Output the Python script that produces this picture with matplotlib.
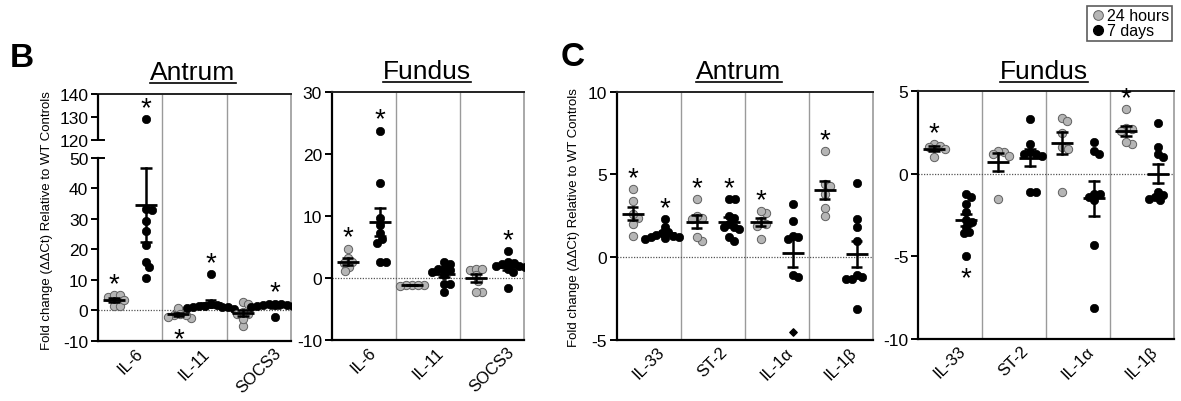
import numpy as np
import matplotlib
matplotlib.use("Agg")
import matplotlib.pyplot as plt
from matplotlib.lines import Line2D

plt.rcParams['font.family'] = ['Liberation Sans', 'DejaVu Sans']

# ---------------- data ----------------
B_genes = ['IL-6', 'IL-11', 'SOCS3']
C_genes = ['IL-33', 'ST-2', 'IL-1\u03b1', 'IL-1\u03b2']

B_antrum_24h = [[4.5, 5.0, 5.0, 1.5, 1.5, 3.5],
                [-1.5, 0.7, -2.3, -2.0, -1.5, -1.2],
                [2.8, 2.1, -1.2, -5.0, -2.8, -1.2, -0.5]]
B_antrum_7d = [[129.0, 32.8, 33.3, 29.2, 26.0, 21.5, 15.8, 14.1, 10.5],
               [12.0, 2.0, 1.8, 1.5, 1.5, 1.2, 1.0, 1.0, 0.8, 0.5],
               [2.0, 2.2, 1.8, 1.5, 1.5, 1.8, 2.0, 1.2, 1.5, -2.0]]

B_fundus_24h = [[4.7, 3.2, 2.6, 1.8, 1.1, 2.4],
                [-1.1, -1.2, -1.2, -1.3, -1.1],
                [1.3, 1.5, 1.4, 0.4, -0.5, -2.3, -2.2]]
B_fundus_7d = [[23.7, 15.3, 9.6, 8.5, 7.2, 6.3, 5.7, 2.6, 2.6],
               [2.5, 2.2, 1.5, 1.4, 1.2, 1.0, -0.9, -0.9, -2.2, 0.5],
               [4.3, 2.4, 2.0, 1.8, 2.0, 2.5, 1.0, 1.5, -1.6, 2.2]]

C_antrum_24h = [[4.1, 3.4, 2.4, 2.0, 1.3, 2.6],
                [3.5, 2.4, 2.5, 1.0, 1.2, 2.3],
                [2.7, 2.8, 2.2, 1.9, 1.1, 2.0],
                [6.4, 4.4, 3.8, 3.0, 2.5, 4.3]]
C_antrum_7d = [[2.3, 1.8, 1.5, 1.45, 1.35, 1.3, 1.2, 1.25, 1.1, 1.15],
               [3.5, 3.5, 2.4, 2.5, 1.8, 1.8, 1.7, 1.0, 1.2, 2.0],
               [3.2, 2.2, 1.3, 1.2, 1.1, -1.1, -1.2, -4.5],
               [4.5, 2.3, 1.8, 1.0, -1.1, -1.3, -1.3, -3.1, -1.2]]
# the point drawn as a small diamond (gene index, value) in C antrum 7 days
C_antrum_7d_diamond = (2, -4.5)

C_fundus_24h = [[1.8, 1.7, 1.6, 1.5, 1.0],
                [1.3, 1.4, 1.1, -1.5, 1.2],
                [3.4, 3.2, 2.5, 1.6, 1.5, -1.1],
                [3.9, 2.7, 2.8, 1.8, 1.9, 2.6]]
C_fundus_7d = [[-1.2, -1.4, -1.8, -2.3, -2.9, -3.5, -3.6, -3.2, -5.0, -2.8],
               [3.3, 1.8, 1.2, 1.1, 1.2, 1.3, -1.1, -1.1],
               [1.9, 1.4, 1.2, -1.2, -1.2, -1.4, -1.6, -4.3, -8.1],
               [3.1, 1.6, 1.2, 1.0, -1.1, -1.3, -1.6, -1.4, -1.5]]

# significance stars: (gene index, group 0=24h / 1=7d, direction)
B_antrum_stars = [(0, 0, 'up'), (0, 1, 'up'), (1, 0, 'down'), (1, 1, 'up'), (2, 1, 'up')]
B_fundus_stars = [(0, 0, 'up'), (0, 1, 'up'), (2, 1, 'up')]
C_antrum_stars = [(0, 0, 'up'), (0, 1, 'up'), (1, 0, 'up'), (1, 1, 'up'), (2, 0, 'up'), (3, 0, 'up')]
C_fundus_stars = [(0, 0, 'up'), (0, 1, 'down'), (3, 0, 'up')]

B_antrum_yticks = [-10, 0, 10, 20, 30, 40, 50, 120, 130, 140]
B_fundus_yticks = [-10, 0, 10, 20, 30]
C_antrum_yticks = [-5, 0, 5, 10]
C_fundus_yticks = [-10, -5, 0, 5]

legend_labels = ['24 hours', '7 days']
ylabel_text = 'Fold change (\u0394\u0394Ct) Relative to WT Controls'

# ---------------- style ----------------
W, H = 1181, 402
GREY = '#b5b5b5'
GREY_EDGE = '#606060'
SEP = '#9a9a9a'
fig = plt.figure(figsize=(W / 100, H / 100), dpi=100)


def rect(l, r, t, b):
    return [l / W, 1 - b / H, (r - l) / W, (b - t) / H]


def swarm(ax, center, vals, d=6.0):
    vals = np.asarray(vals, float)
    disp = ax.transData.transform(np.column_stack([np.full(len(vals), center), vals]))
    ys = disp[:, 1]
    order = np.argsort(-ys, kind='stable')
    placed = []
    offs = np.zeros(len(vals))
    for i in order:
        y = ys[i]
        near = [(px, py) for px, py in placed if abs(py - y) < d]
        cands = [0.0]
        for px, py in near:
            dx = np.sqrt(max(d * d - (py - y) ** 2, 0))
            cands += [px + dx, px - dx]
        cands = sorted(set(cands), key=lambda c: (round(abs(c), 6), -c))
        for c in cands:
            if all((c - px) ** 2 + (y - py) ** 2 >= d * d - 1e-6 for px, py in near):
                offs[i] = c
                placed.append((c, y))
                break
    xd = ax.transData.inverted().transform(np.column_stack([disp[:, 0] + offs, ys]))[:, 0]
    return xd


def panel(ax, genes, g24, g7, ylim, yticks, stars, diamond=None):
    n = len(genes)
    ax.set_xlim(0, n)
    ax.set_ylim(*ylim)
    for i in range(1, n):
        ax.axvline(i, color=SEP, lw=1.0, zorder=1)
    ax.axhline(0, color='#555555', lw=0.9, ls=(0, (1, 1.2)), zorder=1)
    for gi in range(n):
        for k, data in enumerate([g24[gi], g7[gi]]):
            c = gi + 0.25 + 0.5 * k
            vals = np.asarray(data, float)
            xs = swarm(ax, c, vals)
            dmask = np.zeros(len(vals), bool)
            if diamond is not None and k == 1 and diamond[0] == gi:
                dmask = np.isclose(vals, diamond[1])
            if k == 0:
                ax.scatter(xs[~dmask], vals[~dmask], s=36, c=GREY, edgecolors=GREY_EDGE,
                           linewidths=0.7, zorder=3)
            else:
                ax.scatter(xs[~dmask], vals[~dmask], s=36, c='black', edgecolors='black',
                           linewidths=0.5, zorder=3)
                if dmask.any():
                    ax.scatter(xs[dmask], vals[dmask], s=14, marker='D', c='black', zorder=3)
            m = vals.mean()
            se = vals.std(ddof=1) / np.sqrt(len(vals))
            ax.plot([c - 0.17, c + 0.17], [m, m], color='black', lw=2.0, zorder=4,
                    solid_capstyle='butt')
            ax.plot([c, c], [m - se, m + se], color='black', lw=1.8, zorder=4)
            for yy in (m - se, m + se):
                ax.plot([c - 0.09, c + 0.09], [yy, yy], color='black', lw=1.8, zorder=4,
                        solid_capstyle='butt')
    for gi, k, direction in stars:
        c = gi + 0.25 + 0.5 * k
        vals = (g24 if k == 0 else g7)[gi]
        if direction == 'up':
            ax.annotate('*', (c, max(vals)), xytext=(0, 3.0), textcoords='offset points',
                        ha='center', va='baseline', fontsize=20, zorder=5)
        else:
            ax.annotate('*', (c, min(vals)), xytext=(0, -20.5), textcoords='offset points',
                        ha='center', va='baseline', fontsize=20, zorder=5)
    ax.set_yticks(yticks)
    ax.set_yticklabels([str(t) for t in yticks])
    ax.set_xticks([i + 0.5 for i in range(n)])
    ax.set_xticklabels(genes, rotation=45, ha='center', va='top')
    ax.tick_params(axis='x', length=0, pad=3, labelsize=12)
    ax.tick_params(axis='y', length=5, width=1.4, pad=2, labelsize=12.5, direction='out')
    for s in ['left', 'bottom']:
        ax.spines[s].set_linewidth(1.6)
        ax.spines[s].set_color('black')
    ax.spines['top'].set_linewidth(1.4)
    ax.spines['top'].set_color('#222222')
    ax.spines['right'].set_linewidth(1.2)
    ax.spines['right'].set_color(SEP)


# ---------- B antrum with broken y axis ----------
G, K = 5.9, 0.754


def fwd(y):
    y = np.asarray(y, float)
    return np.where(y <= 50, y, np.where(y < 120, 50 + (y - 50) * G / 70, 50 + G + (y - 120) * K))


def inv(v):
    v = np.asarray(v, float)
    return np.where(v <= 50, v, np.where(v < 50 + G, 50 + (v - 50) * 70 / G, 120 + (v - 50 - G) / K))


axBA = fig.add_axes(rect(98, 291, 95, 342))
axBA.set_yscale('function', functions=(fwd, inv))
panel(axBA, B_genes, B_antrum_24h, B_antrum_7d, (-10, 140), B_antrum_yticks, B_antrum_stars)
axBA.spines['left'].set_bounds(-10, 50)
ytr = axBA.get_yaxis_transform()
axBA.plot([0, 0], [120, 140], transform=ytr, color='black', lw=1.6, clip_on=False,
          solid_capstyle='butt', zorder=6)
axBA.plot([0, 0.03], [120, 120], transform=ytr, color='black', lw=1.4, clip_on=False, zorder=6)
axBA.plot([0, 0.03], [50, 50], transform=ytr, color='black', lw=1.4, clip_on=False, zorder=6)

axBF = fig.add_axes(rect(331.7, 524, 92.7, 341))
panel(axBF, B_genes, B_fundus_24h, B_fundus_7d, (-10, 30), B_fundus_yticks, B_fundus_stars)

axCA = fig.add_axes(rect(616.7, 872.7, 92.7, 341))
panel(axCA, C_genes, C_antrum_24h, C_antrum_7d, (-5, 10), C_antrum_yticks, C_antrum_stars,
      diamond=C_antrum_7d_diamond)

axCF = fig.add_axes(rect(918, 1174, 92.3, 340))
panel(axCF, C_genes, C_fundus_24h, C_fundus_7d, (-10, 5), C_fundus_yticks, C_fundus_stars)

# ---------- texts ----------
fig.text(22 / W, 1 - 59 / H, 'B', fontsize=24, fontweight='bold', ha='center', va='center')
fig.text(573 / W, 1 - 58 / H, 'C', fontsize=24, fontweight='bold', ha='center', va='center')

fig.text(47 / W, 1 - 221 / H, ylabel_text, rotation=90, fontsize=9.5, ha='center', va='center')
fig.text(574 / W, 1 - 218 / H, ylabel_text, rotation=90, fontsize=9.5, ha='center', va='center')

titles = []
for x, y, t in [(193, 73, 'Antrum'), (427, 72, 'Fundus'), (739, 72, 'Antrum'), (1044, 72, 'Fundus')]:
    titles.append(fig.text(x / W, 1 - y / H, t, fontsize=19, ha='center', va='center'))

fig.canvas.draw()
r = fig.canvas.get_renderer()
for t in titles:
    bb = t.get_window_extent(r).transformed(fig.transFigure.inverted())
    yline = bb.y0 + 1.0 / H
    fig.add_artist(Line2D([bb.x0, bb.x1], [yline, yline], transform=fig.transFigure,
                          color='black', lw=1.2))

handles = [Line2D([], [], ls='none', marker='o', ms=7, mfc=GREY, mec=GREY_EDGE, mew=0.7),
           Line2D([], [], ls='none', marker='o', ms=7, mfc='black', mec='black')]
leg = fig.legend(handles, legend_labels, loc='upper right', bbox_to_anchor=(1172 / W, 1 - 7 / H),
                 fontsize=11.5, frameon=True, fancybox=False, edgecolor='#333333',
                 borderpad=0.15, handletextpad=0.1, labelspacing=0.0, handlelength=1.0,
                 borderaxespad=0)
leg.get_frame().set_linewidth(1.2)

fig.savefig('out.png', dpi=100)
